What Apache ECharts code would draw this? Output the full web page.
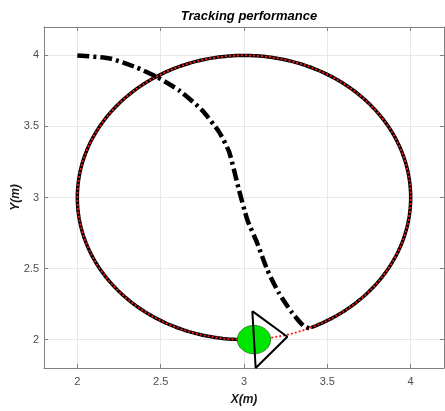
<!DOCTYPE html>
<html>
<head>
<meta charset="utf-8">
<script src="https://cdn.jsdelivr.net/npm/echarts@6/dist/echarts.min.js"></script>
<style>
  html, body { margin: 0; padding: 0; background: #fff; }
  #main { width: 445px; height: 411px; }
</style>
</head>
<body>
<div id="main"></div>
<script>
// axis ticks
var xTicks = [2, 2.5, 3, 3.5, 4];
var yTicks = [2, 2.5, 3, 3.5, 4];

// reference circle (center, radius) and tracked arc (degrees)
var refCenter = [3, 3];
var refRadius = 1;
var trackedArc = [-66.3, 273];

// robot trajectory before joining the circle
var approachX = [2.00, 2.196, 2.355, 2.482, 2.613, 2.75, 2.851, 2.911, 2.970, 3.02, 3.079, 3.139, 3.208, 3.288, 3.357, 3.407];
var approachY = [4.00, 3.978, 3.915, 3.845, 3.752, 3.612, 3.46, 3.32, 3.052, 2.843, 2.68, 2.493, 2.33, 2.19, 2.097, 2.073];

// robot body
var robotCenter = [3.06, 2.0];
var robotRadius = 0.1;
var triX = [3.05, 3.07, 3.26, 3.05];
var triY = [2.2, 1.8, 2.02, 2.2];

function arcPoints(a0, a1) {
  var pts = [];
  for (var a = a0; a <= a1; a += 1) {
    var t = a * Math.PI / 180;
    pts.push([refCenter[0] + refRadius * Math.cos(t), refCenter[1] + refRadius * Math.sin(t)]);
  }
  return pts;
}

var refPts = arcPoints(0, 360);
var trackPts = arcPoints(trackedArc[0], trackedArc[1]);
var approachPts = approachX.map(function (x, i) { return [x, approachY[i]]; });
var triPts = triX.map(function (x, i) { return [x, triY[i]]; });

var chart = echarts.init(document.getElementById('main'));

var fontFam = '"Liberation Sans", Arial, sans-serif';
var nameStyle = { color: '#1a1a1a', fontSize: 12, fontWeight: 'bold', fontStyle: 'italic', fontFamily: fontFam };
var lineCol = '#808080';

function mkAxis(ticks, pos, isMain, name) {
  return {
    type: 'value', min: 1.8, max: 4.2, position: pos,
    name: isMain ? name : '', nameLocation: 'middle',
    nameGap: pos === 'bottom' ? 26 : 22,
    nameMoveOverlap: false,
    nameTextStyle: nameStyle,
    axisLine: { show: true, onZero: false, lineStyle: { color: lineCol, width: 1 } },
    axisTick: { show: true, inside: true, length: 4, customValues: ticks, lineStyle: { color: lineCol } },
    axisLabel: { show: isMain, customValues: ticks, margin: pos === 'bottom' ? 8 : 5, color: '#4d4d4d', fontSize: 11, fontFamily: fontFam },
    splitLine: { show: isMain, lineStyle: { color: '#e8e8e8', width: 1 } }
  };
}

var option = {
  animation: false,
  title: {
    text: 'Tracking performance', left: 244, top: 5, textAlign: 'center',
    textStyle: { fontSize: 13, fontWeight: 'bold', fontStyle: 'italic', color: '#000', fontFamily: fontFam }
  },
  grid: { left: 44, right: 1, top: 27, bottom: 43, outerBoundsMode: 'none', containLabel: false },
  xAxis: [mkAxis(xTicks, 'bottom', true, 'X(m)'), mkAxis(xTicks, 'top', false, '')],
  yAxis: [mkAxis(yTicks, 'left', true, 'Y(m)'), mkAxis(yTicks, 'right', false, '')],
  series: [
    {
      type: 'line', data: trackPts, showSymbol: false, symbol: 'none',
      lineStyle: { color: '#000', width: 3.5 }, z: 2
    },
    {
      type: 'line', data: refPts, showSymbol: false, symbol: 'none',
      lineStyle: { color: '#ff1a1a', width: 1.8, type: [2, 2] }, z: 3
    },
    {
      type: 'line', data: approachPts, showSymbol: false, symbol: 'none', smooth: 0.2,
      lineStyle: { color: '#000', width: 4.5, type: [12, 4, 3, 4], cap: 'butt' }, z: 4
    },
    {
      type: 'custom', z: 5,
      data: [robotCenter],
      renderItem: function (params, api) {
        var c = api.coord([api.value(0), api.value(1)]);
        var s = api.size([robotRadius, robotRadius]);
        return {
          type: 'ellipse',
          shape: { cx: c[0], cy: c[1], rx: s[0], ry: s[1] },
          style: { fill: '#00e600', stroke: '#1a6b1a', lineWidth: 0.8 }
        };
      }
    },
    {
      type: 'line', data: triPts, showSymbol: false, symbol: 'none', clip: false,
      lineStyle: { color: '#000', width: 2 }, z: 6
    }
  ]
};
chart.setOption(option);
</script>
</body>
</html>
